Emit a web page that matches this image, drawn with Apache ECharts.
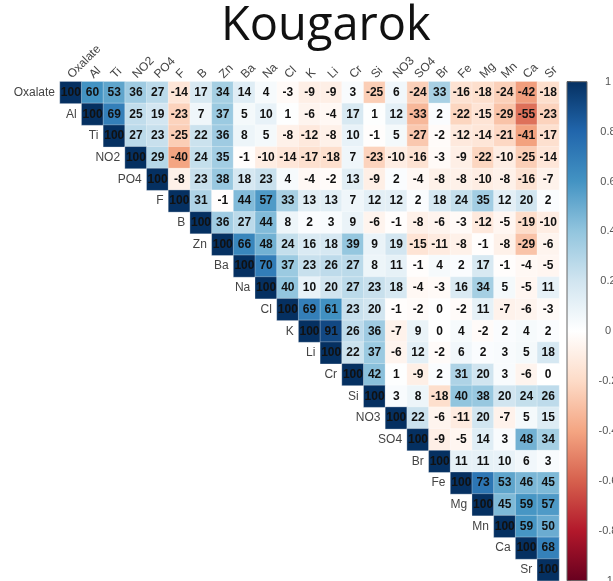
<!DOCTYPE html>
<html>
<head>
<meta charset="utf-8">
<script src="https://cdn.jsdelivr.net/npm/echarts@6/dist/echarts.min.js"></script>
<style>
  html, body { margin: 0; padding: 0; background: #fff; }
  #chart { width: 613px; height: 581px; }
</style>
</head>
<body>
<div id="chart"></div>
<script>
// Variable names, in matrix order
const variables = ['Oxalate','Al','Ti','NO2','PO4','F','B','Zn','Ba','Na','Cl','K','Li','Cr','Si','NO3','SO4','Br','Fe','Mg','Mn','Ca','Sr'];

// Upper-triangle correlations (x100), each row starting at the diagonal
const rowOxalate = [100,60,53,36,27,-14,17,34,14,4,-3,-9,-9,3,-25,6,-24,33,-16,-18,-24,-42,-18];
const rowAl      = [100,69,25,19,-23,7,37,5,10,1,-6,-4,17,1,12,-33,2,-22,-15,-29,-55,-23];
const rowTi      = [100,27,23,-25,22,36,8,5,-8,-12,-8,10,-1,5,-27,-2,-12,-14,-21,-41,-17];
const rowNO2     = [100,29,-40,24,35,-1,-10,-14,-17,-18,7,-23,-10,-16,-3,-9,-22,-10,-25,-14];
const rowPO4     = [100,-8,23,38,18,23,4,-4,-2,13,-9,2,-4,-8,-8,-10,-8,-16,-7];
const rowF       = [100,31,-1,44,57,33,13,13,7,12,12,2,18,24,35,12,20,2];
const rowB       = [100,36,27,44,8,2,3,9,-6,-1,-8,-6,-3,-12,-5,-19,-10];
const rowZn      = [100,66,48,24,16,18,39,9,19,-15,-11,-8,-1,-8,-29,-6];
const rowBa      = [100,70,37,23,26,27,8,11,-1,4,2,17,-1,-4,-5];
const rowNa      = [100,40,10,20,27,23,18,-4,-3,16,34,5,-5,11];
const rowCl      = [100,69,61,23,20,-1,-2,0,-2,11,-7,-6,-3];
const rowK       = [100,91,26,36,-7,9,0,4,-2,2,4,2];
const rowLi      = [100,22,37,-6,12,-2,6,2,3,5,18];
const rowCr      = [100,42,1,-9,2,31,20,3,-6,0];
const rowSi      = [100,3,8,-18,40,38,20,24,26];
const rowNO3     = [100,22,-6,-11,20,-7,5,15];
const rowSO4     = [100,-9,-5,14,3,48,34];
const rowBr      = [100,11,11,10,6,3];
const rowFe      = [100,73,53,46,45];
const rowMg      = [100,45,59,57];
const rowMn      = [100,59,50];
const rowCa      = [100,68];
const rowSr      = [100];

const rows = [rowOxalate,rowAl,rowTi,rowNO2,rowPO4,rowF,rowB,rowZn,rowBa,rowNa,rowCl,rowK,rowLi,rowCr,rowSi,rowNO3,rowSO4,rowBr,rowFe,rowMg,rowMn,rowCa,rowSr];

// Diverging red-blue palette, from -1 to 1
const palette = ['#67001F','#B2182B','#D6604D','#F4A582','#FDDBC7','#FFFFFF','#D1E5F0','#92C5DE','#4393C3','#2166AC','#053061'];

const cells = [];
rows.forEach((vals, r) => {
  vals.forEach((v, k) => cells.push([r + k, r, v]));
});
const labelData = variables.map((name, i) => [i, i]);

const GRID_LEFT = 60, GRID_TOP = 81.7, GRID_SIZE = 499;
const LABEL_FONT = { fill: '#444', fontSize: 12, fontFamily: 'Liberation Sans' };

const chart = echarts.init(document.getElementById('chart'), null, { renderer: 'canvas' });
chart.setOption({
  animation: false,
  backgroundColor: '#fff',
  graphic: [{
    type: 'text', left: 330 - 109, top: 3,
    style: { text: 'Kougarok', fontFamily: 'Open Sans', fontSize: 47, fill: '#111' }
  }],
  grid: [
    { left: GRID_LEFT, top: GRID_TOP, width: GRID_SIZE, height: GRID_SIZE, containLabel: false, outerBoundsMode: 'none' },
    { left: 567, top: GRID_TOP, width: 20, height: GRID_SIZE, containLabel: false, outerBoundsMode: 'none' }
  ],
  xAxis: [
    { type: 'category', data: variables, gridIndex: 0, show: false },
    { type: 'value', gridIndex: 1, show: false, min: 0, max: 1 }
  ],
  yAxis: [
    { type: 'category', data: variables, inverse: true, gridIndex: 0, show: false },
    {
      type: 'value', gridIndex: 1, min: -1, max: 1, interval: 0.2, position: 'right',
      axisLine: { show: false }, splitLine: { show: false },
      axisTick: { show: true, length: 4, lineStyle: { color: '#444', width: 1 } },
      axisLabel: { margin: 21, align: 'center', color: '#555', fontSize: 11, fontFamily: 'Liberation Sans',
        formatter: v => String(Math.round(v * 10) / 10) }
    }
  ],
  visualMap: {
    show: false, type: 'continuous', min: -100, max: 100, dimension: 2, seriesIndex: 0,
    inRange: { color: palette }
  },
  series: [
    {
      type: 'heatmap', xAxisIndex: 0, yAxisIndex: 0, data: cells,
      itemStyle: { borderColor: 'rgba(255,255,255,0.6)', borderWidth: 0.5 },
      label: {
        show: true, color: '#111', fontWeight: 'bold', fontSize: 12, fontFamily: 'Liberation Sans',
        formatter: p => String(p.value[2])
      },
      emphasis: { disabled: true }
    },
    {
      // row names, left of each diagonal cell
      type: 'custom', xAxisIndex: 0, yAxisIndex: 0, data: labelData, silent: true,
      renderItem: (params, api) => {
        const p = api.coord([api.value(0), api.value(1)]);
        const w = api.size([1, 1])[0];
        return {
          type: 'text',
          style: Object.assign({
            x: p[0] - w / 2 - 5, y: p[1],
            text: variables[api.value(0)],
            textAlign: 'right', textVerticalAlign: 'middle'
          }, LABEL_FONT)
        };
      }
    },
    {
      // column names, slanted above the top row
      type: 'custom', xAxisIndex: 0, yAxisIndex: 0, data: labelData, silent: true,
      renderItem: (params, api) => {
        const p = api.coord([api.value(0), 0]);
        const h = api.size([1, 1])[1];
        const x = p[0] + 3, y = p[1] - h / 2 - 1;
        return {
          type: 'text',
          x: x, y: y, rotation: Math.PI / 4,
          style: Object.assign({
            x: 0, y: 0,
            text: variables[api.value(0)],
            textAlign: 'left', textVerticalAlign: 'bottom'
          }, LABEL_FONT)
        };
      }
    },
    {
      // colour bar
      type: 'custom', xAxisIndex: 1, yAxisIndex: 1, data: [[0, 1]], silent: true,
      renderItem: (params, api) => {
        const top = api.coord([0, 1]);
        const bottom = api.coord([1, -1]);
        return {
          type: 'rect',
          shape: { x: top[0], y: top[1], width: bottom[0] - top[0], height: bottom[1] - top[1] },
          style: {
            fill: new echarts.graphic.LinearGradient(0, 0, 0, 1,
              palette.slice().reverse().map((c, i) => ({ offset: i / (palette.length - 1), color: c }))),
            stroke: '#666', lineWidth: 1
          }
        };
      }
    }
  ]
});
</script>
</body>
</html>
